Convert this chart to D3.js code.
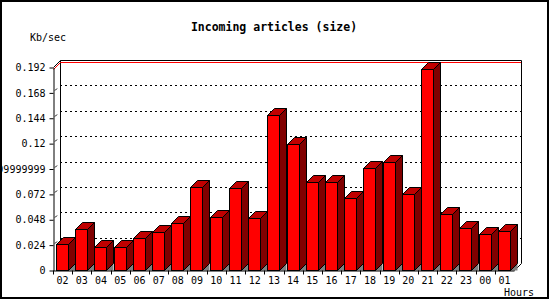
<html>
<head>
    <script src="https://cdn.jsdelivr.net/npm/d3@7/dist/d3.min.js"></script>
    <style>
        body { margin: 0; background: white; }
        svg { display: block; }
        text { font-family: "DejaVu Sans Mono", monospace; }
    </style>
</head>
<body>
<svg id="chart" width="550" height="300"></svg>
<script>
    // hours of the day, as on the x axis
    let hours = ["02","03","04","05","06","07","08","09","10","11","12","13",
                 "14","15","16","17","18","19","20","21","22","23","00","01"];
    // incoming size, Kb/sec
    let sizes = [0.0245, 0.0388, 0.0222, 0.0222, 0.0300, 0.0357, 0.0443, 0.0785,
                 0.0500, 0.0775, 0.0490, 0.1470, 0.1196, 0.0837, 0.0831, 0.0680,
                 0.0963, 0.1020, 0.0718, 0.1905, 0.0528, 0.0395, 0.0338, 0.0367];
    let yTicks = [0, 0.024, 0.048, 0.072, 0.096, 0.12, 0.144, 0.168, 0.192];
    let yTickLabels = ["0", "0.024", "0.048", "0.072", "0.09599999999999999",
                       "0.12", "0.144", "0.168", "0.192"];

    let svg = d3.select("#chart");
    let depth = 7;
    let plotLeft = 53, plotRight = 514, plotBottom = 270, plotTop = 67;

    let x = d3.scaleBand().domain(hours).range([plotLeft, plotRight]).padding(0);
    let y = d3.scaleLinear().domain([0, 0.192]).range([plotBottom, plotTop]);

    // outer frame
    svg.append("rect")
        .attr("x", 1).attr("y", 1).attr("width", 547).attr("height", 297)
        .attr("fill", "white").attr("stroke", "black").attr("stroke-width", 2);

    // title and axis names
    svg.append("text").attr("x", 274).attr("y", 31)
        .attr("text-anchor", "middle").style("font-size", "11.5px").style("font-weight", "bold")
        .text("Incoming articles (size)");
    svg.append("text").attr("x", 30).attr("y", 41).style("font-size", "10px").text("Kb/sec");
    svg.append("text").attr("x", 534).attr("y", 296).attr("text-anchor", "end")
        .style("font-size", "10px").text("Hours");

    // grid lines on back wall
    let grid = yTicks.filter(t => t > 0 && t < 0.192);
    grid.forEach(t => {
        let yy = Math.round(y(t)) + 0.5;
        svg.append("line")
            .attr("x1", plotLeft + depth).attr("x2", plotRight + depth)
            .attr("y1", yy - depth).attr("y2", yy - depth)
            .attr("stroke", "black").attr("stroke-dasharray", "2,3");
        svg.append("line")
            .attr("x1", plotLeft + 2).attr("y1", yy - 2)
            .attr("x2", plotLeft + 4).attr("y2", yy - 4)
            .attr("stroke", "black");
    });

    // back wall outline
    let wTop = Math.round(y(0.192)) - depth + 0.5;
    let wBot = plotBottom - depth + 0.5;
    svg.append("path")
        .attr("d", `M${plotLeft + 0.5},${Math.round(y(0.192)) + 0.5} L${plotLeft + depth + 0.5},${wTop} L${plotRight + depth + 0.5},${wTop} L${plotRight + depth + 0.5},${wBot}`)
        .attr("fill", "none").attr("stroke", "black");
    svg.append("line")
        .attr("x1", plotLeft + depth + 0.5).attr("x2", plotLeft + depth + 0.5)
        .attr("y1", wTop).attr("y2", wBot).attr("stroke", "black");

    // max line in red
    let maxY = Math.round(y(d3.max(sizes))) + 0.5;
    svg.append("path")
        .attr("d", `M${plotLeft + 0.5},${maxY} L${plotLeft + depth + 0.5},${maxY - depth} L${plotRight + depth},${maxY - depth}`)
        .attr("fill", "none").attr("stroke", "red");

    // floor right edge
    svg.append("line")
        .attr("x1", plotRight + 0.5).attr("y1", plotBottom + 0.5)
        .attr("x2", plotRight + depth + 0.5).attr("y2", wBot)
        .attr("stroke", "black");

    // bars
    let w = 12;
    let data = hours.map((h, i) => ({ hour: h, value: sizes[i] }));
    let bars = svg.selectAll(".bar").data(data).enter().append("g").attr("class", "bar");

    bars.each(function (d) {
        let g = d3.select(this);
        let xf = Math.round(x(d.hour)) + 3.5;
        let yt = Math.round(y(d.value)) + 0.5;
        let y0 = plotBottom + 0.5;
        g.append("polygon")
            .attr("points", `${xf + w},${y0} ${xf + w + depth},${y0 - depth} ${xf + w + depth},${y0}`)
            .attr("fill", "#808080");
        g.append("rect")
            .attr("x", xf).attr("y", yt).attr("width", w).attr("height", y0 - yt)
            .attr("fill", "#ff0000").attr("stroke", "black");
        g.append("polygon")
            .attr("points", `${xf},${yt} ${xf + depth},${yt - depth} ${xf + w + depth},${yt - depth} ${xf + w},${yt}`)
            .attr("fill", "#c00000").attr("stroke", "black");
        g.append("polygon")
            .attr("points", `${xf + w},${yt} ${xf + w + depth},${yt - depth} ${xf + w + depth},${y0 - depth} ${xf + w},${y0}`)
            .attr("fill", "#800000").attr("stroke", "black");
    });

    // y axis
    let axisY = d3.axisLeft(y)
        .tickValues(yTicks)
        .tickFormat((d, i) => yTickLabels[i])
        .tickSize(4).tickSizeOuter(0).tickPadding(4);
    let gy = svg.append("g")
        .attr("transform", `translate(${plotLeft + 0.5},0.5)`)
        .call(axisY);
    gy.selectAll("text").style("font-family", "DejaVu Sans Mono").style("font-size", "10px").attr("fill", "black");

    // x axis
    let axisX = d3.axisBottom(x).tickSize(0).tickPadding(6);
    let gx = svg.append("g")
        .attr("transform", `translate(0,${plotBottom + 0.5})`)
        .call(axisX);
    gx.selectAll("text").style("font-family", "DejaVu Sans Mono").style("font-size", "10px").attr("fill", "black");
    gx.selectAll(".edge").data(hours).enter().append("line")
        .attr("x1", d => Math.round(x(d)) + 0.5).attr("x2", d => Math.round(x(d)) + 0.5)
        .attr("y1", 0).attr("y2", 4).attr("stroke", "black");
</script>
</body>
</html>
